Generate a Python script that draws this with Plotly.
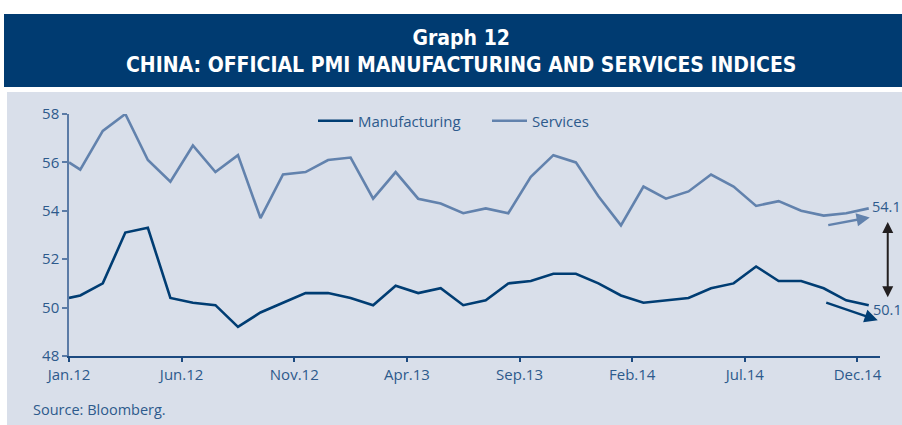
import numpy as np
import pandas as pd
import plotly.graph_objects as go

# ---------------- data ----------------
months = pd.date_range("2012-01-01", periods=36, freq="MS")
month_labels = [m.strftime("%b.%y") for m in months]
tick_labels = ["Jan.12", "Jun.12", "Nov.12", "Apr.13", "Sep.13", "Feb.14", "Jul.14", "Dec.14"]

# value at the very start of the axis (carried over from Dec.11)
manufacturing_start = 50.4
services_start = 56.0

manufacturing = [50.5, 51.0, 53.1, 53.3, 50.4, 50.2, 50.1, 49.2, 49.8, 50.2, 50.6, 50.6,
                 50.4, 50.1, 50.9, 50.6, 50.8, 50.1, 50.3, 51.0, 51.1, 51.4, 51.4, 51.0,
                 50.5, 50.2, 50.3, 50.4, 50.8, 51.0, 51.7, 51.1, 51.1, 50.8, 50.3, 50.1]
services = [55.7, 57.3, 58.0, 56.1, 55.2, 56.7, 55.6, 56.3, 53.7, 55.5, 55.6, 56.1,
            56.2, 54.5, 55.6, 54.5, 54.3, 53.9, 54.1, 53.9, 55.4, 56.3, 56.0, 54.6,
            53.4, 55.0, 54.5, 54.8, 55.5, 55.0, 54.2, 54.4, 54.0, 53.8, 53.9, 54.1]

# ---------------- styling ----------------
BAND = "#003b71"
PANEL = "#d9dfea"
MFG = "#003d73"
SVC = "#6282ad"
TXT = "#2d5a8c"
FONT = "Open Sans, Noto Sans, sans-serif"
TITLE_FONT = "Liberation Sans Narrow, DejaVu Sans Condensed, Arial Narrow, sans-serif"

n = len(months)
x_mid = np.arange(n) + 0.5          # monthly observations plotted mid-month
x_all = np.concatenate([[0.0], x_mid])
mfg_all = [manufacturing_start] + manufacturing
svc_all = [services_start] + services
tick_pos = [month_labels.index(t) for t in tick_labels]

fig = go.Figure()
fig.add_trace(go.Scatter(x=x_all, y=mfg_all, mode="lines", name="Manufacturing",
                         line=dict(color=MFG, width=2.6), cliponaxis=False,
                         hoverinfo="skip"))
fig.add_trace(go.Scatter(x=x_all, y=svc_all, mode="lines", name="Services",
                         line=dict(color=SVC, width=2.6), cliponaxis=False,
                         hoverinfo="skip"))

W, H = 902, 425
L, R, T, B = 69, 22, 114, 69
pw, ph = W - L - R, H - T - B


def px_x(p):
    return (p - L) / pw


def px_y(p):
    return (H - B - p) / ph


shapes = [
    dict(type="rect", xref="paper", yref="paper", x0=px_x(4), x1=px_x(W + 5),
         y0=px_y(87), y1=px_y(14), fillcolor=BAND, line=dict(width=0), layer="below"),
    dict(type="rect", xref="paper", yref="paper", x0=px_x(7), x1=px_x(W + 5),
         y0=px_y(H + 5), y1=px_y(92), fillcolor=PANEL, line=dict(width=0), layer="below"),
]

last_x = x_mid[-1]
annotations = [
    dict(xref="paper", yref="paper", x=px_x(461), y=px_y(52), xanchor="center",
         yanchor="middle", showarrow=False, align="center",
         text="<b>Graph 12</b><br><b>CHINA: OFFICIAL PMI MANUFACTURING AND SERVICES INDICES</b>",
         font=dict(family=TITLE_FONT, size=21, color="white")),
    dict(xref="paper", yref="paper", x=px_x(31), y=px_y(409), xanchor="left",
         yanchor="middle", showarrow=False, text="Source: Bloomberg.",
         font=dict(family=FONT, size=14.5, color=TXT)),
    # value labels
    dict(x=last_x, y=services[-1], xanchor="left", yanchor="middle", xshift=1, yshift=2,
         showarrow=False, text=f"{services[-1]:.1f}", font=dict(family=FONT, size=14.5, color=TXT)),
    dict(x=last_x, y=manufacturing[-1], xanchor="left", yanchor="middle", xshift=2, yshift=-4,
         showarrow=False, text=f"{manufacturing[-1]:.1f}", font=dict(family=FONT, size=14.5, color=TXT)),
    # trend arrows
    dict(x=last_x, y=services[-1], xshift=1, yshift=-9, ax=-43, ay=8, text="",
         showarrow=True, arrowhead=2, arrowsize=1.1, arrowwidth=2.4, arrowcolor=SVC),
    dict(x=last_x, y=manufacturing[-1], xshift=9, yshift=-15, ax=-53, ay=-18, text="",
         showarrow=True, arrowhead=2, arrowsize=1.1, arrowwidth=2.4, arrowcolor=MFG),
    # gap arrow
    dict(x=last_x, y=manufacturing[-1], ax=last_x, ay=services[-1], axref="x", ayref="y",
         xshift=19, text="", showarrow=True, arrowhead=2, startarrowhead=2,
         arrowside="end+start", arrowsize=1.1, startarrowsize=1.1, arrowwidth=2,
         arrowcolor="#231f20", standoff=8, startstandoff=12),
]

fig.update_layout(
    width=W, height=H,
    margin=dict(l=L, r=R, t=T, b=B, pad=0),
    paper_bgcolor="white", plot_bgcolor=PANEL,
    font=dict(family=FONT, size=15, color=TXT),
    showlegend=True,
    legend=dict(orientation="h", x=px_x(313), y=px_y(121), xanchor="left", yanchor="middle",
                bgcolor="rgba(0,0,0,0)", font=dict(family=FONT, size=15, color=TXT),
                itemwidth=35, entrywidth=124, entrywidthmode="pixels"),
    shapes=shapes, annotations=annotations,
    xaxis=dict(range=[0, 36], tickvals=tick_pos, ticktext=tick_labels, showgrid=False,
               zeroline=False, showline=True, linecolor="#1c4a80", linewidth=1.5,
               ticks="outside", ticklen=4, tickcolor="#1c4a80", tickwidth=1.5,
               tickfont=dict(family=FONT, size=15, color=TXT)),
    yaxis=dict(range=[48, 58], tickvals=[48, 50, 52, 54, 56, 58], showgrid=False,
               zeroline=False, showline=True, linecolor="#5b7ba6", linewidth=1.5,
               ticks="outside", ticklen=5, tickcolor="#5b7ba6", tickwidth=1.5,
               tickfont=dict(family=FONT, size=15, color=TXT)),
)

fig.write_html("out.html")
